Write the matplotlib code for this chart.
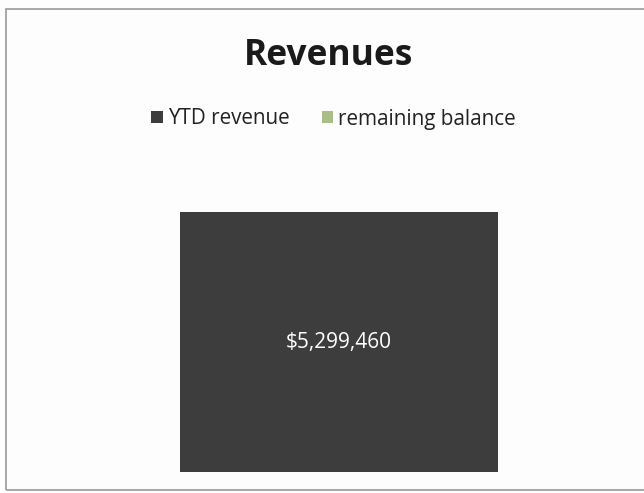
import matplotlib
matplotlib.use("Agg")
import matplotlib.pyplot as plt
from matplotlib.patches import Patch

categories = ["Revenues"]
ytd_revenue = [5299460]
remaining_balance = [0]
series_names = ["YTD revenue", "remaining balance"]
colors = ["#3d3d3d", "#a9bd86"]

plt.rcParams['font.family'] = ['Open Sans', 'DejaVu Sans']

fig = plt.figure(figsize=(6.44, 4.93), dpi=100)
fig.patch.set_facecolor("#fdfdfd")

# chart border
border = plt.Rectangle((6/644, 3/493), 1.2, 1 - 12/493, transform=fig.transFigure,
                       fill=False, edgecolor="#9a9a9a", linewidth=1.2)
fig.add_artist(border)

W, H = 644, 493
ax_left, ax_right = 112, 566
ax_bottom, ax_top = 472, 178
ax = fig.add_axes([ax_left / W, 1 - ax_bottom / H, (ax_right - ax_left) / W, (ax_bottom - ax_top) / H])
ax.set_facecolor("none")

x = list(range(len(categories)))
b1 = ax.bar(x, ytd_revenue, width=0.7, color=colors[0])
ax.bar(x, remaining_balance, width=0.7, bottom=ytd_revenue, color=colors[1])
ax.set_xlim(-0.5, 0.5)
ax.set_ylim(0, 6000000)
ax.axis("off")

for rect, v in zip(b1, ytd_revenue):
    ax.text(rect.get_x() + rect.get_width() / 2, v / 2, f"${v:,.0f}",
            ha="center", va="center", color="white", fontsize=15)

fig.text(329 / W, 1 - 56 / H, "Revenues", ha="center", va="center",
         fontsize=25.5, fontweight="bold", color="#1a1a1a")

handles = [Patch(facecolor=c, edgecolor="none") for c in colors]
fig.legend(handles, series_names, loc="center", bbox_to_anchor=(333.5 / W, 1 - 119 / H),
           ncol=2, frameon=False, fontsize=14.9, handlelength=0.55, handleheight=0.55,
           handletextpad=0.25, columnspacing=1.55, labelcolor="#222222")

fig.savefig("out.png", dpi=100, facecolor=fig.get_facecolor())
